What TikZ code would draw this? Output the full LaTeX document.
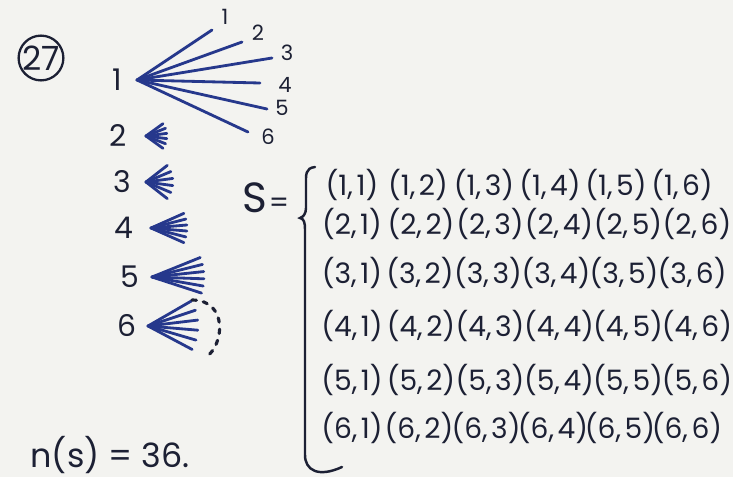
\documentclass[tikz,border=0pt]{standalone}
\usepackage{fontspec}
\setmainfont{Poppins}
\usetikzlibrary{positioning}
\definecolor{ink}{RGB}{28,32,52}
\definecolor{pen}{RGB}{38,56,140}
\definecolor{paper}{RGB}{243,243,240}

\tikzset{
  tiplbl/.style={text=ink, inner sep=0pt, font=\fontsize{12}{14}\selectfont},
  dielbl/.style={text=ink, inner sep=0pt, font=\fontsize{17}{19}\selectfont},
  pairtxt/.style={text=ink, inner sep=0pt, font=\fontsize{16}{19}\selectfont},
  branch/.style={pen, line width=1.6pt, line cap=round},
}

\begin{document}
\begin{tikzpicture}[x=0.02cm, y=-0.02cm]
\fill[paper] (0,0) rectangle (733,477);
\useasboundingbox (0,0) rectangle (733,477);

% question number
\node[draw=ink, text=ink, circle, line width=1.3pt, minimum size=0.8cm, inner sep=0pt,
  font=\fontsize{19}{21}\selectfont] (qno) at (41,58) {27};

% first throw 1: full tree
\node[dielbl] (r1) at (117,80) {1};
\coordinate (f1) at (137,80);
\foreach \j/\tx/\ty/\lx/\ly in {1/212/30/225/17, 2/242/42/258/33, 3/272/58/287/53,
    4/260/83/285/85, 5/267/109/282/108, 6/248/132/268/137} {
  \coordinate (t1-\j) at (\tx,\ty);
  \node[tiplbl] (l1-\j) at (\lx,\ly) {\j};
  \draw[branch] (f1) -- (t1-\j);
}

% other throws: small fans
\foreach \k/\nx/\ny/\fx/\len/\lo/\hi in {2/118/136/146/21/-36/36, 3/122/182/146/27/-38/38,
    4/124/228/151/36/-24/24, 5/130/277/152/52/-22/18, 6/127/326/148/50/-30/28} {
  \node[dielbl] (r\k) at (\nx,\ny) {\k};
  \coordinate (f\k) at (\fx,\ny);
  \foreach \j in {1,...,6} {
    \pgfmathsetmacro{\ang}{\lo+(\j-1)*(\hi-\lo)/5}
    \path (f\k) ++(\ang:\len) coordinate (t\k-\j);
    \draw[branch] (f\k) -- (t\k-\j);
  }
}
\draw[ink, line width=1.8pt, dash pattern=on 2.5pt off 4pt, line cap=round]
  (192,300) .. controls (228,300) and (225,345) .. (205,358);

% sample space
\node[text=ink, inner sep=0pt, font=\fontsize{24}{28}\selectfont] (S) at (255,198) {S};
\node[text=ink, inner sep=0pt, font=\fontsize{16}{18}\selectfont] (eq) at (279,205) {=};
\draw[ink, line width=1.4pt, line cap=round]
  (315,167) .. controls (305,168) and (306,175) .. (306,185) -- (306,208)
  .. controls (306,214) and (303,217) .. (300,218)
  .. controls (304,219) and (305,222) .. (305,230) -- (305,455)
  .. controls (305,470) and (318,478) .. (342,467);

\foreach \i/\y/\dx in {1/185/66, 2/224/69, 3/273/68, 4/326/69, 5/380/69, 6/428/67}
  \foreach \j in {1,...,6}
    \node[pairtxt] (p\i-\j) at ({352+(\j-1)*\dx},\y) {(\i,\hspace{2pt}\j)};

\node[text=ink, inner sep=0pt, font=\fontsize{19}{21}\selectfont] (ns) at (110,455) {n(s) = 36.};
\end{tikzpicture}
\end{document}
